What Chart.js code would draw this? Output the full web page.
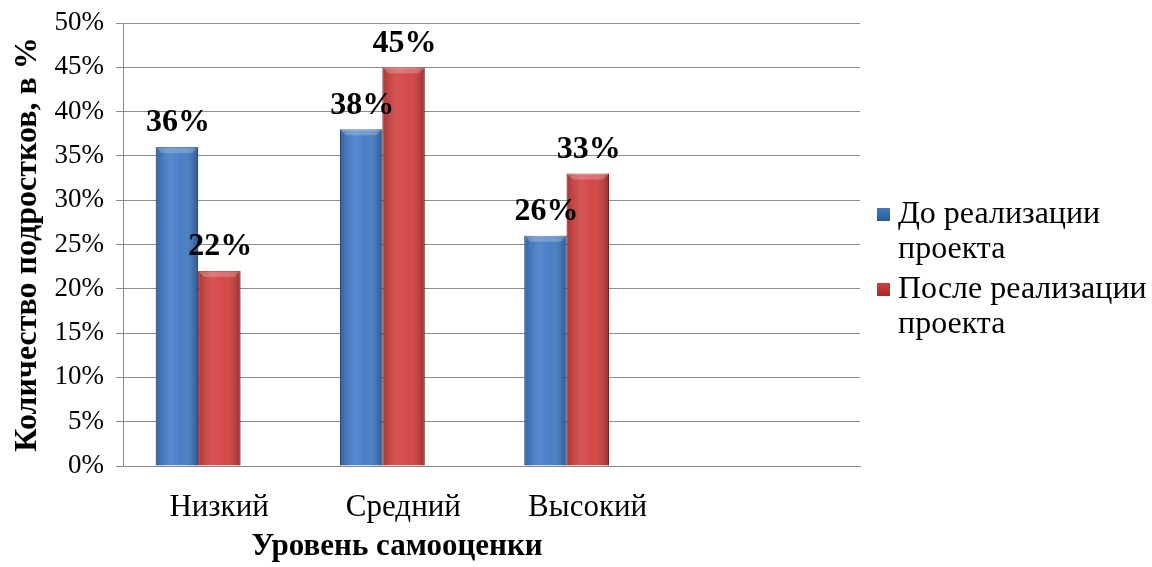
<!DOCTYPE html>
<html>
<head>
<meta charset="utf-8">
<script src="https://cdn.jsdelivr.net/npm/chart.js@4/dist/chart.umd.min.js"></script>
<style>
  html, body { margin: 0; padding: 0; background: #fff; }
  #wrap { width: 1152px; height: 567px; }
</style>
</head>
<body>
<div id="wrap"><canvas id="myChart" width="1152" height="567"></canvas></div>
<script>
// categories (last one empty, like the source chart)
var levels = ['Низкий', 'Средний', 'Высокий', ''];
var beforeValues = [36, 38, 26, null];
var afterValues = [22, 45, 33, null];
var seriesNames = [['До реализации', 'проекта'], ['После реализации', 'проекта']];
var yTicks = [0, 5, 10, 15, 20, 25, 30, 35, 40, 45, 50];

var FONT = "'Liberation Serif', 'Times New Roman', serif";
var colors = ['#4079c6', '#d23f3d'];
var borders = ['#2b5793', '#9c2b29'];
var barShift = -17; // excel 3d look: bars sit a bit left of the category centre

var shiftBars = {
    id: 'shiftBars',
    beforeDatasetsDraw: function(chart){
        chart.ctx.save();
        chart.ctx.translate(barShift, 0);
    },
    afterDatasetsDraw: function(chart){
        var ctx = chart.ctx;
        // shading so the bars look a bit like the excel cylinders
        chart.data.datasets.forEach(function(ds, i){
            chart.getDatasetMeta(i).data.forEach(function(bar, j){
                if(ds.data[j] == null) return;
                var p = bar.getProps(['x', 'y', 'base', 'width']);
                var l = p.x - p.width / 2, w = p.width, h = p.base - p.y;
                var g = ctx.createLinearGradient(l, 0, l + w, 0);
                g.addColorStop(0, 'rgba(0,0,0,0.18)');
                g.addColorStop(0.35, 'rgba(255,255,255,0.12)');
                g.addColorStop(0.6, 'rgba(255,255,255,0.05)');
                g.addColorStop(1, 'rgba(0,0,0,0.28)');
                ctx.fillStyle = g;
                ctx.fillRect(l, p.y, w, h);
                ctx.fillStyle = 'rgba(255,255,255,0.22)';
                ctx.beginPath();
                ctx.moveTo(l, p.y);
                ctx.lineTo(l + w, p.y);
                ctx.lineTo(l + w - 6, p.y + 6);
                ctx.lineTo(l + 6, p.y + 6);
                ctx.closePath();
                ctx.fill();
            });
        });
        // value labels
        ctx.font = 'bold 32px ' + FONT;
        ctx.fillStyle = '#000';
        ctx.textAlign = 'center';
        ctx.textBaseline = 'middle';
        chart.data.datasets.forEach(function(ds, i){
            chart.getDatasetMeta(i).data.forEach(function(bar, j){
                if(ds.data[j] == null) return;
                ctx.fillText(ds.data[j] + '%', bar.x + 1, bar.y - 24);
            });
        });
        ctx.restore();
    }
};

var sideLegend = {
    id: 'sideLegend',
    afterDraw: function(chart){
        var ctx = chart.ctx;
        var x = chart.chartArea.right + 17;
        var tops = [215, 290];
        ctx.save();
        ctx.font = '32px ' + FONT;
        ctx.textBaseline = 'middle';
        ctx.textAlign = 'left';
        seriesNames.forEach(function(lines, i){
            var y = tops[i];
            var g = ctx.createLinearGradient(0, y - 7, 0, y + 7);
            g.addColorStop(0, colors[i]);
            g.addColorStop(1, borders[i]);
            ctx.fillStyle = g;
            ctx.fillRect(x, y - 7, 13, 13);
            ctx.fillStyle = '#000';
            lines.forEach(function(t, k){
                ctx.fillText(t, x + 21, y + k * 35);
            });
        });
        // x axis title
        ctx.font = 'bold 31px ' + FONT;
        ctx.textAlign = 'center';
        ctx.fillText('Уровень самооценки', 397, 547);
        ctx.restore();
    }
};

var ctx = document.getElementById('myChart');
var myChart = new Chart(ctx, {
    type: 'bar',
    plugins: [shiftBars, sideLegend],
    data: {
        labels: levels,
        datasets: [{
            label: seriesNames[0].join(' '),
            data: beforeValues,
            backgroundColor: colors[0],
            borderColor: borders[0],
            borderWidth: 1
        }, {
            label: seriesNames[1].join(' '),
            data: afterValues,
            backgroundColor: colors[1],
            borderColor: borders[1],
            borderWidth: 1
        }]
    },
    options: {
        responsive: false,
        animation: false,
        layout: { padding: { left: 0, right: 292, top: 23, bottom: 0 } },
        categoryPercentage: 0.46,
        barPercentage: 1.0,
        plugins: {
            legend: { display: false },
            tooltip: { enabled: false }
        },
        scales: {
            x: {
                grid: { display: false },
                border: { display: true, color: '#8c8c8c', width: 1 },
                ticks: {
                    color: '#000',
                    font: { family: FONT, size: 31 },
                    padding: 15,
                    labelOffset: 4
                },
                afterFit: function(scale){
                    scale.height = 567 - 466;
                    scale.paddingLeft = 0;
                    scale.paddingRight = 0;
                }
            },
            y: {
                min: 0,
                max: 50,
                afterBuildTicks: function(scale){
                    scale.ticks = yTicks.map(function(v){ return { value: v }; });
                },
                grid: { color: '#8c8c8c', tickLength: 7, lineWidth: 1 },
                border: { display: true, color: '#8c8c8c', width: 1 },
                ticks: {
                    color: '#000',
                    font: { family: FONT, size: 27 },
                    padding: 12,
                    callback: function(v){ return v + '%'; }
                },
                title: {
                    display: true,
                    text: 'Количество подростков, в %',
                    color: '#000',
                    font: { family: FONT, size: 32, weight: 'bold' },
                    padding: { top: 9, bottom: 0 }
                },
                afterFit: function(scale){
                    scale.width = 123;
                    scale.paddingTop = 0;
                    scale.paddingBottom = 0;
                }
            }
        }
    }
});
</script>
</body>
</html>
